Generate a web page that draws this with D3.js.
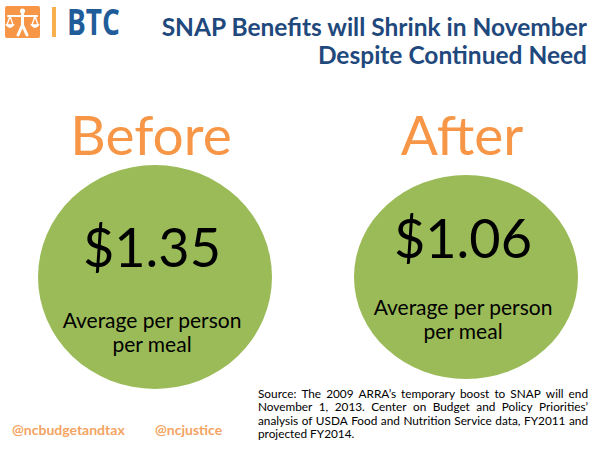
<!DOCTYPE html>
<html>
<head>
<meta charset="utf-8">
<script src="https://cdn.jsdelivr.net/npm/d3@7"></script>
<style>
  html, body { margin: 0; padding: 0; background: #fff; }
  svg { display: block; font-family: Lato, "Open Sans", sans-serif; }
</style>
</head>
<body>
<div id="chart"></div>
<script>
// Chart data
const periods = ['Before', 'After']
const mealCost = [1.35, 1.06]
const captionLines = ['Average per person', 'per meal']
const titleLines = ['SNAP Benefits will Shrink in November', 'Despite Continued Need']
const handles = ['@ncbudgetandtax', '@ncjustice']
const sourceLines = [
  'Source: The 2009 ARRA\u2019s temporary boost to SNAP will end',
  'November 1, 2013. Center on Budget and Policy Priorities\u2019',
  'analysis of USDA Food and Nutrition Service data, FY2011 and',
  'projected FY2014.'
]

const width = 600
const height = 450

const GREEN = '#9bbb59'
const ORANGE = '#f79646'
const NAVY = '#1f497d'

const svg = d3.select('#chart')
  .append('svg')
  .attr('width', width)
  .attr('height', height)

// Scales
const x = d3.scalePoint().domain(periods).range([155, 466])
const rx = d3.scaleLinear().domain(d3.extent(mealCost)).range([112, 117])
const ry = d3.scaleLinear().domain(d3.extent(mealCost)).range([102, 112])
const lift = d3.scaleLinear().domain(d3.extent(mealCost)).range([-9, 0])
const fmt = d3.format('$.2f')
const cy = 277

// Logo
const logo = svg.append('g').attr('class', 'logo')
logo.append('rect')
  .attr('x', 5).attr('y', 6).attr('width', 35).attr('height', 32)
  .attr('rx', 2).attr('fill', ORANGE)
const fig = logo.append('g').attr('fill', 'none').attr('stroke', '#fff')
  .attr('stroke-linecap', 'round').attr('stroke-linejoin', 'round')
fig.append('circle').attr('cx', 22.5).attr('cy', 11).attr('r', 2.6).attr('fill', '#fff').attr('stroke', 'none')
fig.append('path').attr('d', 'M8,16 L37,16').attr('stroke-width', 2.2)
fig.append('path').attr('d', 'M22.5,14 L22.5,26 M22.5,25 L18,35 M22.5,25 L27,35').attr('stroke-width', 3)
fig.append('path').attr('d', 'M10,16 L7,25 M10,16 L13,25 M35,16 L32,25 M35,16 L38,25').attr('stroke-width', 1.3)
fig.append('path').attr('d', 'M6,25 Q10,30 14,25 Z M31,25 Q35,30 39,25 Z').attr('fill', '#fff').attr('stroke-width', 1)
logo.append('rect')
  .attr('x', 52).attr('y', 7).attr('width', 4).attr('height', 30)
  .attr('fill', '#f8b04c')
logo.append('text')
  .attr('x', 67).attr('y', 35)
  .attr('font-family', '"Liberation Sans Narrow", "Open Sans", sans-serif')
  .attr('font-weight', 700).attr('font-size', 36)
  .attr('textLength', 53).attr('lengthAdjust', 'spacingAndGlyphs')
  .attr('fill', '#1f5c99')
  .text('BTC')

// Title
svg.append('g').selectAll('text')
  .data(titleLines)
  .join('text')
  .attr('x', 587)
  .attr('y', (d, i) => 36 + i * 28)
  .attr('text-anchor', 'end')
  .attr('font-weight', 700)
  .attr('font-size', 24.5)
  .attr('fill', NAVY)
  .text(d => d)

// Circles with headings
const groups = svg.append('g').selectAll('g')
  .data(periods.map((p, i) => ({ period: p, value: mealCost[i] })))
  .join('g')
  .attr('transform', d => `translate(${x(d.period)},0)`)

groups.append('text')
  .attr('x', -4)
  .attr('y', 155)
  .attr('text-anchor', 'middle')
  .attr('font-size', 55)
  .attr('fill', ORANGE)
  .text(d => d.period)

groups.append('ellipse')
  .attr('cx', 0)
  .attr('cy', cy)
  .attr('rx', d => rx(d.value))
  .attr('ry', d => ry(d.value))
  .attr('fill', GREEN)

groups.append('text')
  .attr('x', -3)
  .attr('y', d => cy - 10 + lift(d.value))
  .attr('text-anchor', 'middle')
  .attr('font-size', 54)
  .attr('fill', '#000')
  .text(d => fmt(d.value))

groups.each(function (d) {
  d3.select(this).selectAll('text.caption')
    .data(captionLines)
    .join('text')
    .attr('class', 'caption')
    .attr('x', -3)
    .attr('y', (c, i) => cy + 51 + lift(d.value) * 1.4 + i * 24)
    .attr('text-anchor', 'middle')
    .attr('font-size', 21)
    .attr('fill', '#000')
    .text(c => c)
})

// Footer handles
svg.append('g').selectAll('text')
  .data(handles)
  .join('text')
  .attr('x', (d, i) => [12, 155][i])
  .attr('y', 435)
  .attr('font-weight', 700)
  .attr('font-size', 14)
  .attr('fill', '#f4a463')
  .text(d => d)

// Source note, justified word by word
const boxLeft = 258
const boxRight = 588
const lineGap = 13.4
const note = svg.append('g').attr('font-size', 11.8).attr('fill', '#000')
const probe = note.append('text').attr('visibility', 'hidden')
const measure = s => { probe.text(s); return probe.node().getComputedTextLength() }
const spaceW = measure('a b') - measure('ab')

sourceLines.forEach((line, li) => {
  const words = line.split(' ').map(w => ({ w, ww: measure(w) }))
  const last = li === sourceLines.length - 1
  const total = d3.sum(words, d => d.ww)
  const gap = last ? spaceW : (boxRight - boxLeft - total) / (words.length - 1)
  let pos = boxLeft
  words.forEach(d => {
    note.append('text')
      .attr('x', pos)
      .attr('y', 398 + li * lineGap)
      .text(d.w)
    pos += d.ww + gap
  })
})
probe.remove()
</script>
</body>
</html>
